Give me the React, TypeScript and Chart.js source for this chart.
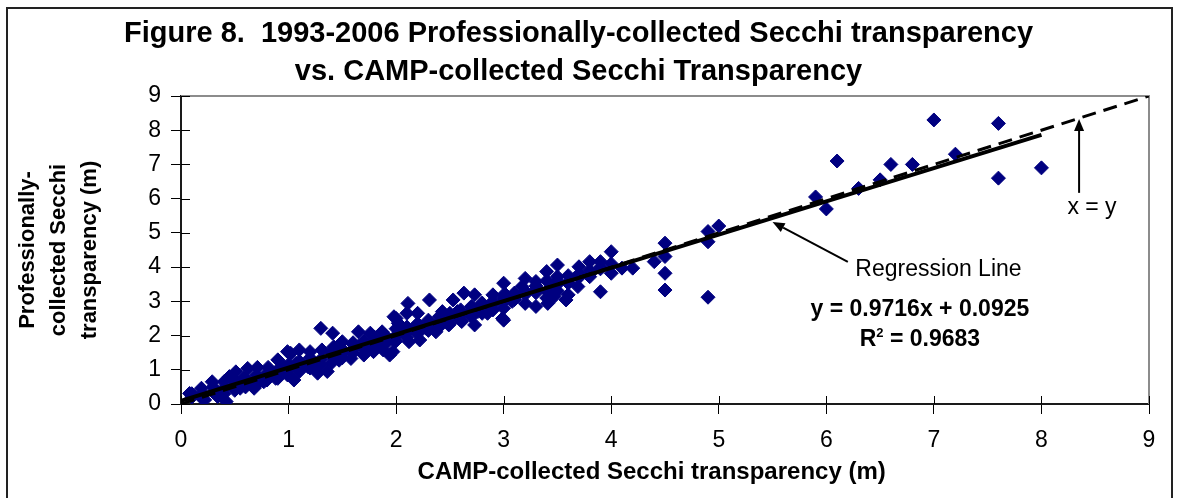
import React, { useEffect, useRef } from 'react';
import { Chart, registerables } from 'chart.js';

Chart.register(...registerables);

const FONT = "'Liberation Sans', Arial, Helvetica, sans-serif";

const titleLines = [
  'Figure 8.  1993-2006 Professionally-collected Secchi transparency',
  'vs. CAMP-collected Secchi Transparency',
];
const xAxisTitle = 'CAMP-collected Secchi transparency (m)    ';
const yAxisTitle = ['Professionally-', 'collected Secchi', 'transparency (m)'];
const axisTicks = [0, 1, 2, 3, 4, 5, 6, 7, 8, 9];

// CAMP-collected (x) and professionally-collected (y) Secchi depths
const campSecchi = [
  // 0-1 m
  0.08, 0.19, 0.29, 0.4, 0.51, 0.62, 0.71, 0.81, 0.9, 0.99, 0.22, 0.42, 0.34, 0.55, 0.68, 0.77, 0.88, 0.99, 0.58, 0.45,
  0.1, 0.1, 0.2, 0.2, 0.3, 0.3, 0.4, 0.4, 0.5, 0.5, 0.5, 0.6, 0.6, 0.6, 0.7, 0.7, 0.7, 0.8, 0.8, 0.8, 0.9, 0.9, 0.9,
  // 1-2 m
  1.3, 1.41, 1.65, 1.76, 1.87, 1.98, 2.02, 1.5, 1.6, 1.02, 1.1, 1.2, 1.31, 1.42, 1.07, 1.18, 1.27, 1.36, 1.47, 1.58,
  1.7, 1.79, 1.88, 1.99, 1.76, 0.96, 1.05, 1.94,
  1.0, 1.0, 1.0, 1.1, 1.1, 1.1, 1.2, 1.2, 1.2, 1.3, 1.3, 1.4, 1.4, 1.4, 1.5, 1.5, 1.5, 1.6, 1.6, 1.6, 1.7, 1.7, 1.7,
  1.8, 1.8, 1.8, 1.9, 1.9, 1.9,
  // 2-3 m
  2.11, 2.31, 2.53, 2.63, 2.73, 2.9, 2.8, 3.02, 2.99, 2.0, 2.1, 2.2, 2.43, 2.03, 2.12, 2.22, 2.37, 2.49, 2.61, 2.73,
  2.85, 1.97, 2.28, 2.57, 2.76,
  2.0, 2.0, 2.0, 2.1, 2.1, 2.1, 2.2, 2.2, 2.2, 2.3, 2.3, 2.3, 2.4, 2.4, 2.4, 2.5, 2.5, 2.5, 2.6, 2.6, 2.6, 2.7, 2.7,
  2.7, 2.8, 2.8, 2.8, 2.9, 2.9, 2.9,
  // 3-4 m
  3.9, 3.8, 3.9, 3.7, 3.8, 3.5, 3.4, 3.5, 3.6, 3.6, 3.2, 3.3, 3.17, 3.3, 3.3, 3.2, 3.1, 3.47, 3.47, 3.58, 3.0, 3.0,
  3.0, 3.08, 3.41, 3.69,
  3.0, 3.0, 3.0, 3.1, 3.1, 3.2, 3.2, 3.3, 3.3, 3.4, 3.4, 3.4, 3.5, 3.5, 3.5, 3.6, 3.6, 3.7, 3.7, 3.8, 3.8, 3.9, 3.9,
  // 4-5 m
  4.0, 4.0, 4.1, 4.2, 4.0, 4.5, 4.4, 4.5, 4.5, 4.5, 4.9, 4.9, 4.9,
  // above 5 m
  7.0, 7.6, 6.1, 6.6, 6.8, 7.2, 6.5, 6.3, 5.9, 6.0, 7.6, 8.0, 5.0,
];
const profSecchi = [
  // 0-1 m
  0.31, 0.46, 0.65, 0.65, 0.94, 1.04, 1.07, 1.07, 1.29, 1.53, 0.12, 0.07, 0.22, 0.46, 0.46, 0.65, 0.75, 0.85, 0.75, 0.8,
  0.2, 0.3, 0.3, 0.15, 0.35, 0.5, 0.3, 0.45, 0.55, 0.4, 0.7, 0.6, 0.75, 0.5, 0.7, 0.85, 0.55, 0.9, 0.7, 0.8, 0.9, 1.0, 0.75,
  // 1-2 m
  2.21, 2.07, 2.11, 2.07, 2.11, 2.55, 2.36, 1.82, 1.79, 1.48, 1.58, 1.53, 1.58, 1.67, 1.19, 1.09, 0.9, 0.95, 1.28, 1.33,
  1.43, 1.53, 1.58, 1.82, 1.72, 1.09, 0.7, 1.43,
  1.0, 1.15, 0.85, 1.1, 1.25, 0.95, 1.2, 1.35, 1.05, 1.3, 1.15, 1.4, 1.5, 1.2, 1.5, 1.6, 1.35, 1.6, 1.5, 1.75, 1.7, 1.6, 1.85,
  1.8, 1.7, 1.95, 1.9, 1.75, 2.0,
  // 2-3 m
  2.94, 3.04, 3.04, 3.24, 3.19, 3.19, 2.9, 3.19, 2.5, 2.5, 2.65, 2.65, 2.7, 2.11, 1.82, 1.87, 2.11, 2.31, 2.41, 2.31,
  2.65, 1.53, 2.21, 2.7, 2.7,
  2.0, 2.2, 1.85, 2.1, 2.25, 1.95, 2.2, 2.35, 2.05, 2.3, 2.45, 2.15, 2.4, 2.55, 2.25, 2.5, 2.65, 2.35, 2.6, 2.75, 2.45, 2.7, 2.85,
  2.55, 2.8, 2.95, 2.65, 2.9, 3.0, 2.75,
  // 3-4 m
  3.28, 4.16, 4.16, 4.01, 3.72, 4.06, 3.87, 3.72, 3.53, 3.19, 3.67, 3.58, 3.43, 3.33, 2.85, 2.94, 3.24, 3.43, 3.14, 3.04, 3.53, 3.19,
  2.45, 3.0, 2.94, 3.43,
  3.0, 3.1, 2.8, 3.1, 3.05, 3.2, 3.3, 3.25, 3.45, 3.3, 3.6, 3.1, 3.5, 3.6, 3.3, 3.55, 3.75, 3.7, 3.8, 3.8, 3.9, 3.95, 4.0,
  // 4-5 m
  4.45, 3.82, 3.97, 3.97, 4.1, 4.7, 4.16, 4.31, 3.82, 3.33, 5.04, 4.74, 3.12,
  // above 5 m
  8.3, 8.2, 7.1, 7.0, 7.0, 7.3, 6.55, 6.3, 6.05, 5.7, 6.6, 6.9, 5.2,
];

// Regression line y = 0.9716x + 0.0925 (end points) and the 1:1 line
const regressionX = [0, 8];
const regressionY = [0.0925, 7.8653];
const equalityX = [0, 9];
const equalityY = [0, 9];

const regressionLabel = 'Regression Line';
const equationLabel = 'y = 0.9716x + 0.0925';
const r2Label = ' = 0.9683';
const equalityLabel = 'x = y';

function drawArrow(ctx: CanvasRenderingContext2D, x1: number, y1: number, x2: number, y2: number) {
  const ang = Math.atan2(y2 - y1, x2 - x1);
  const len = 12;
  const hw = 5;
  const bx = x2 - Math.cos(ang) * len;
  const by = y2 - Math.sin(ang) * len;
  ctx.beginPath();
  ctx.moveTo(x1, y1);
  ctx.lineTo(bx, by);
  ctx.stroke();
  ctx.beginPath();
  ctx.moveTo(x2, y2);
  ctx.lineTo(bx - Math.sin(ang) * hw, by + Math.cos(ang) * hw);
  ctx.lineTo(bx + Math.sin(ang) * hw, by - Math.cos(ang) * hw);
  ctx.closePath();
  ctx.fill();
}

const decorPlugin = {
  id: 'decor',
  beforeDatasetsDraw(chart: any) {
    const { ctx, chartArea: a } = chart;
    ctx.save();
    ctx.strokeStyle = '#8c8c8c';
    ctx.lineWidth = 2;
    ctx.beginPath();
    ctx.moveTo(a.left, a.top);
    ctx.lineTo(a.right, a.top);
    ctx.lineTo(a.right, a.bottom);
    ctx.stroke();
    ctx.restore();
  },
  afterDraw(chart: any) {
    const { ctx, chartArea: a, scales } = chart;
    const x = scales.x;
    const y = scales.y;
    ctx.save();
    // inner half of the cross tick marks
    ctx.strokeStyle = '#000';
    ctx.lineWidth = 1;
    axisTicks.forEach((v) => {
      const px = Math.round(x.getPixelForValue(v)) + 0.5;
      ctx.beginPath();
      ctx.moveTo(px, a.bottom);
      ctx.lineTo(px, a.bottom - 8);
      ctx.stroke();
      const py = Math.round(y.getPixelForValue(v)) + 0.5;
      ctx.beginPath();
      ctx.moveTo(a.left, py);
      ctx.lineTo(a.left + 9, py);
      ctx.stroke();
    });

    // arrows
    ctx.fillStyle = '#000';
    ctx.lineWidth = 2;
    drawArrow(ctx, x.getPixelForValue(6.2), y.getPixelForValue(4.15), x.getPixelForValue(5.5), y.getPixelForValue(5.32));
    drawArrow(ctx, x.getPixelForValue(8.35), y.getPixelForValue(6.17), x.getPixelForValue(8.35), y.getPixelForValue(8.33));

    // texts
    ctx.textBaseline = 'middle';
    ctx.font = `23px ${FONT}`;
    ctx.textAlign = 'left';
    ctx.fillText(regressionLabel, x.getPixelForValue(6.27), y.getPixelForValue(3.92));
    ctx.textAlign = 'center';
    ctx.fillText(equalityLabel, x.getPixelForValue(8.47), y.getPixelForValue(5.73));

    ctx.font = `bold 23px ${FONT}`;
    ctx.fillText(equationLabel, x.getPixelForValue(6.87), y.getPixelForValue(2.75));

    // R² = ...
    const cx = x.getPixelForValue(6.87);
    const cy = y.getPixelForValue(1.87);
    ctx.font = `bold 23px ${FONT}`;
    const wR = ctx.measureText('R').width;
    const wRest = ctx.measureText(r2Label).width;
    ctx.font = `bold 13px ${FONT}`;
    const w2 = ctx.measureText('2').width;
    const total = wR + w2 + wRest;
    let sx = cx - total / 2;
    ctx.textAlign = 'left';
    ctx.font = `bold 23px ${FONT}`;
    ctx.fillText('R', sx, cy);
    sx += wR;
    ctx.font = `bold 13px ${FONT}`;
    ctx.fillText('2', sx, cy - 7);
    sx += w2;
    ctx.font = `bold 23px ${FONT}`;
    ctx.fillText(r2Label, sx, cy);

    // outer frame
    ctx.strokeStyle = '#222';
    ctx.lineWidth = 2;
    ctx.strokeRect(7, 8, 1165, 500);
    ctx.restore();
  },
};

export default function App() {
  const ref = useRef<HTMLCanvasElement | null>(null);

  useEffect(() => {
    document.body.style.margin = '0';
    const canvas = ref.current;
    if (!canvas) return;
    Chart.defaults.font.family = FONT;
    Chart.defaults.color = '#000';

    const points = campSecchi.map((v, i) => ({ x: v, y: profSecchi[i] }));
    const regPts = regressionX.map((v, i) => ({ x: v, y: regressionY[i] }));
    const eqPts = equalityX.map((v, i) => ({ x: v, y: equalityY[i] }));

    const chart = new Chart(canvas, {
      type: 'scatter',
      data: {
        datasets: [
          {
            type: 'line',
            data: regPts,
            borderColor: '#000',
            borderWidth: 4,
            pointRadius: 0,
            order: 0,
          },
          {
            type: 'line',
            data: eqPts,
            borderColor: '#000',
            borderWidth: 3,
            borderDash: [14, 8],
            pointRadius: 0,
            order: 1,
          },
          {
            type: 'scatter',
            data: points,
            pointStyle: 'rectRot',
            pointRadius: 7,
            backgroundColor: '#000080',
            borderColor: '#000080',
            borderWidth: 1,
            order: 2,
          },
        ] as any,
      },
      options: {
        responsive: false,
        animation: false,
        events: [],
        layout: { padding: { left: 8, right: 30, top: 8, bottom: 8 } },
        plugins: {
          legend: { display: false },
          tooltip: { enabled: false },
          title: {
            display: true,
            text: titleLines,
            color: '#000',
            font: { size: 29, weight: 'bold', lineHeight: '38px', family: FONT },
            padding: { top: 7, bottom: 5 },
          },
        },
        scales: {
          x: {
            type: 'linear',
            min: 0,
            max: 9,
            afterBuildTicks: (s: any) => {
              s.ticks = axisTicks.map((v) => ({ value: v }));
            },
            afterFit: (s: any) => {
              s.height = 86;
            },
            ticks: { font: { size: 23, family: FONT }, color: '#000', padding: 13, maxRotation: 0 },
            grid: { drawOnChartArea: false, drawTicks: true, tickLength: 10, color: '#000', lineWidth: 1 },
            border: { display: true, color: '#1a1a1a', width: 2 },
            title: {
              display: true,
              text: xAxisTitle,
              color: '#000',
              font: { size: 24, weight: 'bold', family: FONT },
              padding: { top: 0, bottom: 3 },
            },
          },
          y: {
            type: 'linear',
            min: 0,
            max: 9,
            afterBuildTicks: (s: any) => {
              s.ticks = axisTicks.map((v) => ({ value: v }));
            },
            afterFit: (s: any) => {
              s.width = 173;
            },
            ticks: { font: { size: 23, family: FONT }, color: '#000', padding: 10 },
            grid: { drawOnChartArea: false, drawTicks: true, tickLength: 10, color: '#000', lineWidth: 1 },
            border: { display: true, color: '#1a1a1a', width: 2 },
            title: {
              display: true,
              text: yAxisTitle,
              color: '#000',
              font: { size: 22, weight: 'bold', lineHeight: '31px', family: FONT },
              padding: { top: 4, bottom: 0 },
            },
          },
        },
      } as any,
      plugins: [decorPlugin as any],
    });
    return () => chart.destroy();
  }, []);

  return (
    <div style={{ width: 1179, height: 498 }}>
      <canvas ref={ref} width={1179} height={498} style={{ display: 'block', width: 1179, height: 498 }} />
    </div>
  );
}
